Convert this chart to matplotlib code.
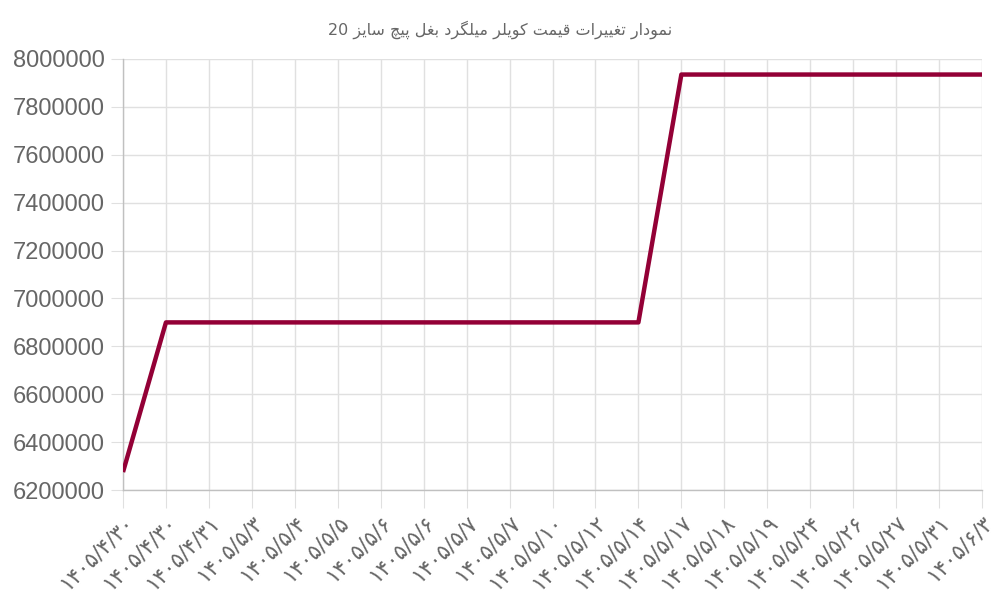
import matplotlib
matplotlib.use("Agg")
import matplotlib.pyplot as plt

# داده‌ها
dates = ["۱۴۰۵/۴/۳۰", "۱۴۰۵/۴/۳۰", "۱۴۰۵/۴/۳۱", "۱۴۰۵/۵/۳", "۱۴۰۵/۵/۴",
         "۱۴۰۵/۵/۵", "۱۴۰۵/۵/۶", "۱۴۰۵/۵/۶", "۱۴۰۵/۵/۷", "۱۴۰۵/۵/۷",
         "۱۴۰۵/۵/۱۰", "۱۴۰۵/۵/۱۲", "۱۴۰۵/۵/۱۴", "۱۴۰۵/۵/۱۷", "۱۴۰۵/۵/۱۸",
         "۱۴۰۵/۵/۱۹", "۱۴۰۵/۵/۲۴", "۱۴۰۵/۵/۲۶", "۱۴۰۵/۵/۲۷", "۱۴۰۵/۵/۳۱",
         "۱۴۰۵/۶/۳"]
prices = [6275000, 6900000, 6900000, 6900000, 6900000,
          6900000, 6900000, 6900000, 6900000, 6900000,
          6900000, 6900000, 6900000, 7935000, 7935000,
          7935000, 7935000, 7935000, 7935000, 7935000,
          7935000]
y_ticks = list(range(6200000, 8000001, 200000))
title = "نمودار تغییرات قیمت کویلر میلگرد بغل پیچ سایز 20"

# matplotlib حروف فارسی را به هم نمی‌چسباند، پس شکل‌ها را خودمان انتخاب می‌کنیم
# (isolated, final, initial, medial)
FORMS = {
    "ا": ("\uFE8D", "\uFE8E", None, None),
    "د": ("\uFEA9", "\uFEAA", None, None),
    "ر": ("\uFEAD", "\uFEAE", None, None),
    "ز": ("\uFEAF", "\uFEB0", None, None),
    "و": ("\uFEED", "\uFEEE", None, None),
    "ب": ("\uFE8F", "\uFE90", "\uFE91", "\uFE92"),
    "پ": ("\uFB56", "\uFB57", "\uFB58", "\uFB59"),
    "ت": ("\uFE95", "\uFE96", "\uFE97", "\uFE98"),
    "چ": ("\uFB7A", "\uFB7B", "\uFB7C", "\uFB7D"),
    "س": ("\uFEB1", "\uFEB2", "\uFEB3", "\uFEB4"),
    "غ": ("\uFECD", "\uFECE", "\uFECF", "\uFED0"),
    "ق": ("\uFED5", "\uFED6", "\uFED7", "\uFED8"),
    "ک": ("\uFB8E", "\uFB8F", "\uFB90", "\uFB91"),
    "گ": ("\uFB92", "\uFB93", "\uFB94", "\uFB95"),
    "ل": ("\uFEDD", "\uFEDE", "\uFEDF", "\uFEE0"),
    "م": ("\uFEE1", "\uFEE2", "\uFEE3", "\uFEE4"),
    "ن": ("\uFEE5", "\uFEE6", "\uFEE7", "\uFEE8"),
    "ی": ("\uFBFC", "\uFBFD", "\uFBFE", "\uFBFF"),
}


def shape_word(word):
    out = []
    for i, ch in enumerate(word):
        if ch not in FORMS:
            out.append(ch)
            continue
        prev = word[i - 1] if i > 0 else None
        nxt = word[i + 1] if i + 1 < len(word) else None
        join_prev = prev in FORMS and FORMS[prev][2] is not None
        join_next = nxt in FORMS and FORMS[ch][2] is not None
        iso, fin, ini, med = FORMS[ch]
        if join_prev and join_next:
            out.append(med)
        elif join_prev:
            out.append(fin)
        elif join_next:
            out.append(ini)
        else:
            out.append(iso)
    return "".join(out)


def rtl(text):
    words = []
    for w in text.split(" "):
        if any(c in FORMS for c in w):
            words.append(shape_word(w)[::-1])
        else:
            words.append(w)
    return " ".join(words[::-1])


plt.rcParams["font.family"] = ["Liberation Sans", "DejaVu Sans"]

fig = plt.figure(figsize=(10, 6), dpi=100)
ax = fig.add_axes([0.123, 0.1833, 0.859, 0.7184])

x = list(range(len(dates)))
ax.plot(x, prices, color="#930036", linewidth=3.2, solid_capstyle="butt", zorder=3)

ax.set_xlim(0, len(dates) - 1)
ax.set_ylim(6200000, 8000000)
ax.set_yticks(y_ticks)
ax.set_yticklabels([str(v) for v in y_ticks])
ax.set_xticks(x)
ax.set_xticklabels(dates, rotation=45, ha="right", rotation_mode="anchor",
                   family=["DejaVu Sans"])

ax.grid(True, color="#e0e0e0", linewidth=1)
ax.set_axisbelow(True)
ax.tick_params(axis="y", labelsize=17, labelcolor="#666666", color="#e0e0e0",
               length=9, pad=4)
ax.tick_params(axis="x", labelsize=15.5, labelcolor="#666666", color="#e0e0e0",
               length=13, pad=3)
for side in ["top", "right"]:
    ax.spines[side].set_visible(False)
for side in ["left", "bottom"]:
    ax.spines[side].set_color("#c0c0c0")
    ax.spines[side].set_linewidth(1)

fig.text(0.5, 0.95, rtl(title), ha="center", va="center", fontsize=11.5,
         color="#666666", family=["DejaVu Sans"])

fig.savefig("out.png", dpi=100)
